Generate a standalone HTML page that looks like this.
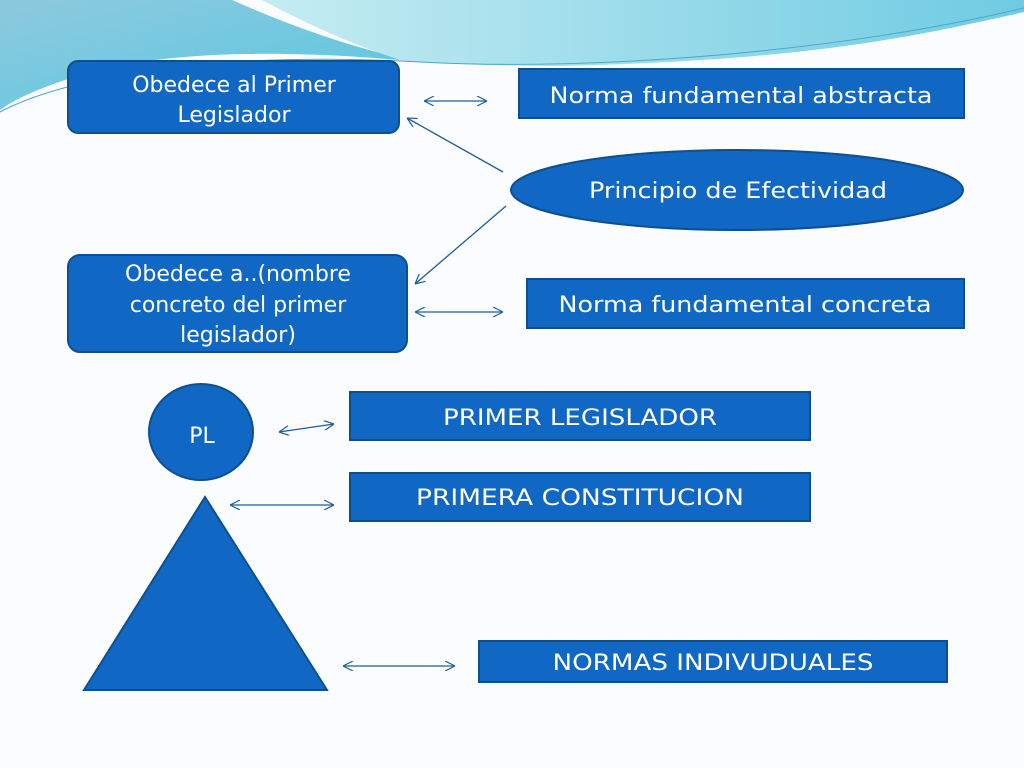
<!DOCTYPE html>
<html><head><meta charset="utf-8"><style>html,body{margin:0;padding:0;background:#fbfcfd}svg{display:block}</style></head><body>
<svg width="1024" height="768" viewBox="0 0 1024 768" xmlns="http://www.w3.org/2000/svg">
<defs>
<linearGradient id="g1" x1="0" y1="0" x2="1" y2="1"><stop offset="0" stop-color="#8ec9de"/><stop offset="1" stop-color="#56c8e0"/></linearGradient>
<linearGradient id="g2" x1="0" y1="0" x2="1" y2="0"><stop offset="0" stop-color="#c6ecf2"/><stop offset="1" stop-color="#6fcbe2"/></linearGradient>
<marker id="a" viewBox="0 0 10 10" refX="10" refY="5" markerWidth="10" markerHeight="10" markerUnits="userSpaceOnUse" orient="auto-start-reverse"><path d="M0,0 L10,5 L0,10" fill="none" stroke="#1f5c9a" stroke-width="1.2"/></marker>
</defs>
<rect width="1024" height="768" fill="#fbfcfd"/>
<path d="M0,0 L232,0 C300,30 360,50 420,62 C300,50 180,50 100,70 C60,80 20,95 0,110 Z" fill="url(#g1)"/>
<path d="M262,0 L1024,0 L1024,12 C900,40 800,60 560,66 C480,66 420,62 400,60 C340,40 300,20 262,0 Z" fill="url(#g2)"/>
<path d="M0,112 C60,80 200,50 420,62 C600,72 850,50 1024,8" fill="none" stroke="#4aa7c8" stroke-width="1"/>
<g fill="#1068c4" stroke="#0d4f8f" stroke-width="2">
<rect x="68" y="61" width="331" height="72" rx="10"/>
<rect x="519" y="69" width="445" height="49"/>
<ellipse cx="737" cy="190" rx="226" ry="40"/>
<rect x="68" y="255" width="339" height="97" rx="12"/>
<rect x="527" y="279" width="437" height="49"/>
<ellipse cx="201" cy="432" rx="52" ry="48"/>
<rect x="350" y="392" width="460" height="48"/>
<rect x="350" y="473" width="460" height="48"/>
<polygon points="205,497 327,690 84,690"/>
<rect x="479" y="641" width="468" height="41"/>
</g>
<g fill="#fff" font-family="'DejaVu Sans','Liberation Sans',sans-serif" font-size="22" text-anchor="middle">
<text x="234" y="92">Obedece al Primer</text>
<text x="234" y="122">Legislador</text>
<text x="741" y="103" textLength="383" lengthAdjust="spacingAndGlyphs">Norma fundamental abstracta</text>
<text x="738" y="198" textLength="298" lengthAdjust="spacingAndGlyphs">Principio de Efectividad</text>
<text x="238" y="281">Obedece a..(nombre</text>
<text x="238" y="312">concreto del primer</text>
<text x="238" y="342">legislador)</text>
<text x="745" y="312" textLength="373" lengthAdjust="spacingAndGlyphs">Norma fundamental concreta</text>
<text x="202" y="443">PL</text>
<text x="580" y="425" textLength="274" lengthAdjust="spacingAndGlyphs">PRIMER LEGISLADOR</text>
<text x="580" y="505" textLength="328" lengthAdjust="spacingAndGlyphs">PRIMERA CONSTITUCION</text>
<text x="713" y="670" textLength="321" lengthAdjust="spacingAndGlyphs">NORMAS INDIVUDUALES</text>
</g>
<g stroke="#1f5c9a" stroke-width="1.3" fill="none" marker-start="url(#a)" marker-end="url(#a)">
<line x1="424" y1="101" x2="487" y2="101"/>
<line x1="415" y1="312" x2="503" y2="312"/>
<line x1="279" y1="432" x2="334" y2="424"/>
<line x1="230" y1="505" x2="334" y2="505"/>
<line x1="343" y1="666" x2="455" y2="666"/>
</g>
<g stroke="#1f5c9a" stroke-width="1.3" fill="none" marker-end="url(#a)">
<line x1="503" y1="172" x2="407" y2="118"/>
<line x1="506" y1="206" x2="415" y2="284"/>
</g>
</svg>
</body></html>
